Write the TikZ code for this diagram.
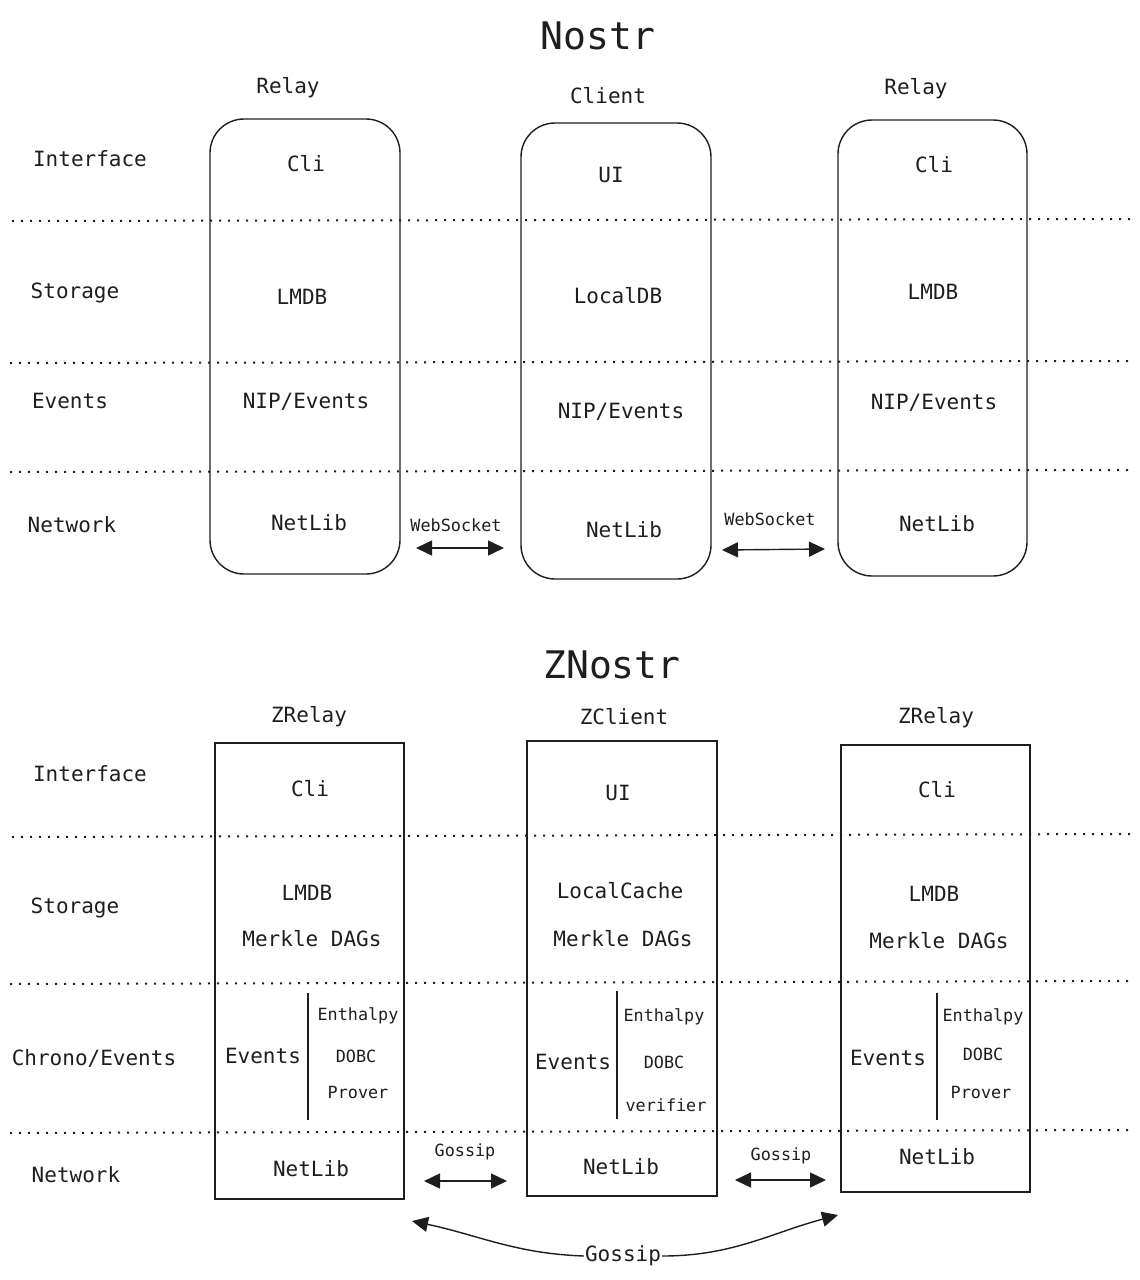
\documentclass[tikz,border=0pt]{standalone}
\usepackage{fontspec}
\setmainfont{DejaVu Sans Mono}
\usetikzlibrary{arrows.meta}
\definecolor{ink}{HTML}{1E1E1E}

\tikzset{
	txt/.style={font=\fontsize{21}{21}\selectfont, inner sep=0pt, text=ink},
	tiny/.style={font=\fontsize{16.8}{16.8}\selectfont, inner sep=0pt, text=ink},
	ttl/.style={font=\fontsize{38}{38}\selectfont, inner sep=0pt, text=ink},
	sep/.style={draw=ink, line width=2pt, dash pattern=on 2pt off 7pt},
	rbox/.style={draw=ink, line width=1.4pt, rounded corners=34pt},
	sbox/.style={draw=ink, line width=1.4pt},
	arr/.style={draw=ink, line width=1.4pt, {Triangle[length=16pt,width=15pt]}-{Triangle[length=16pt,width=15pt]}},
	half/.style={draw=ink, line width=1.4pt, -{Triangle[length=16pt,width=15pt]}},
}

\begin{document}
\begin{tikzpicture}[x=1pt,y=-1pt]
	\useasboundingbox (0,0) rectangle (1140,1280);

	% Nostr
	\node[ttl] (nostr) at (598,36) {Nostr};
	\draw[rbox] (210,119) rectangle (400,574);
	\draw[rbox] (521,123) rectangle (711,579);
	\draw[rbox] (838,120) rectangle (1027,576);
	\draw[sep] (12,221) -- (1130,219);
	\draw[sep] (10,363) -- (1130,361);
	\draw[sep] (10,472) -- (1130,470);

	\node[txt] (relayA) at (288,88) {Relay};
	\node[txt] (client) at (608,96) {Client};
	\node[txt] (relayB) at (916,89) {Relay};

	\node[txt] (ifA) at (90,159) {Interface};
	\node[txt] (stA) at (75,293) {Storage};
	\node[txt] (evA) at (70,401) {Events};
	\node[txt] (nwA) at (72,525) {Network};

	\node[txt] (cliA) at (306,164) {Cli};
	\node[txt] (lmdbA) at (302,297) {LMDB};
	\node[txt] (nipA) at (306,402) {NIP/Events};
	\node[txt] (netA) at (309,523) {NetLib};

	\node[txt] (uiC) at (611,175) {UI};
	\node[txt] (dbC) at (618,296) {LocalDB};
	\node[txt] (nipC) at (621,412) {NIP/Events};
	\node[txt] (netC) at (624,530) {NetLib};

	\node[txt] (cliB) at (934,165) {Cli};
	\node[txt] (lmdbB) at (933,292) {LMDB};
	\node[txt] (nipB) at (934,403) {NIP/Events};
	\node[txt] (netB) at (937,524) {NetLib};

	\node[tiny] (wsA) at (456,525) {WebSocket};
	\coordinate (wsA1) at (416,548);
	\coordinate (wsA2) at (504,548);
	\draw[arr] (wsA1) -- (wsA2);
	\node[tiny] (wsB) at (770,519) {WebSocket};
	\coordinate (wsB1) at (722,550);
	\coordinate (wsB2) at (825,549);
	\draw[arr] (wsB1) -- (wsB2);

	% ZNostr
	\node[ttl] (znostr) at (612,665) {ZNostr};
	\draw[sbox] (215,743) rectangle (404,1199);
	\draw[sbox] (527,741) rectangle (717,1196);
	\draw[sbox] (841,745) rectangle (1030,1192);
	\draw[sep] (12,837) -- (1130,834);
	\draw[sep] (10,984) -- (1130,981);
	\draw[sep] (10,1133) -- (1130,1130);

	\node[txt] (zrelayA) at (309,717) {ZRelay};
	\node[txt] (zclient) at (624,717) {ZClient};
	\node[txt] (zrelayB) at (936,718) {ZRelay};

	\node[txt] (ifZ) at (90,774) {Interface};
	\node[txt] (stZ) at (75,908) {Storage};
	\node[txt] (evZ) at (94,1058) {Chrono/Events};
	\node[txt] (nwZ) at (76,1175) {Network};

	\node[txt] (zcliA) at (310,789) {Cli};
	\node[txt] (zlmdbA) at (307,893) {LMDB};
	\node[txt] (dagA) at (312,939) {Merkle DAGs};
	\node[txt] (zevA) at (263,1056) {Events};
	\draw[sbox] (308,993) -- (308,1120);
	\node[tiny] (enA) at (358,1016) {Enthalpy};
	\node[tiny] (doA) at (356,1056) {DOBC};
	\node[tiny] (prA) at (358,1092) {Prover};
	\node[txt] (znetA) at (311,1169) {NetLib};

	\node[txt] (zuiC) at (618,793) {UI};
	\node[txt] (cacheC) at (620,891) {LocalCache};
	\node[txt] (dagC) at (623,939) {Merkle DAGs};
	\node[txt] (zevC) at (573,1062) {Events};
	\draw[sbox] (617,991) -- (617,1119);
	\node[tiny] (enC) at (664,1017) {Enthalpy};
	\node[tiny] (doC) at (664,1062) {DOBC};
	\node[tiny] (veC) at (666,1105) {verifier};
	\node[txt] (znetC) at (621,1167) {NetLib};

	\node[txt] (zcliB) at (937,790) {Cli};
	\node[txt] (zlmdbB) at (934,894) {LMDB};
	\node[txt] (dagB) at (939,941) {Merkle DAGs};
	\node[txt] (zevB) at (888,1058) {Events};
	\draw[sbox] (937,993) -- (937,1120);
	\node[tiny] (enB) at (983,1017) {Enthalpy};
	\node[tiny] (doB) at (983,1054) {DOBC};
	\node[tiny] (prB) at (981,1092) {Prover};
	\node[txt] (znetB) at (937,1157) {NetLib};

	\node[tiny] (gsA) at (465,1152) {Gossip};
	\coordinate (gsA1) at (424,1181);
	\coordinate (gsA2) at (507,1181);
	\draw[arr] (gsA1) -- (gsA2);
	\node[tiny] (gsB) at (781,1156) {Gossip};
	\coordinate (gsB1) at (735,1180);
	\coordinate (gsB2) at (826,1180);
	\draw[arr] (gsB1) -- (gsB2);

	\node[txt, inner sep=1pt] (gossip) at (623,1256) {Gossip};
	\coordinate (gsL) at (412,1221);
	\coordinate (gsR) at (838,1215);
	\draw[half] (gossip.west) to[out=178,in=-12] (gsL);
	\draw[half] (gossip.east) to[out=0,in=195] (gsR);
\end{tikzpicture}
\end{document}
